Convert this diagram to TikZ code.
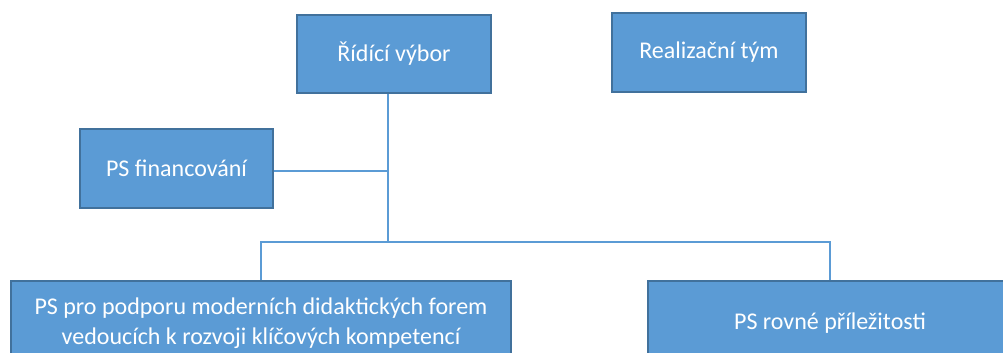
\documentclass[tikz,border=0pt]{standalone}
\usepackage{fontspec}
\setmainfont{Carlito}
\definecolor{boxfill}{HTML}{5B9BD5}
\definecolor{boxline}{HTML}{41719C}
\definecolor{conn}{HTML}{5B9BD5}
\begin{document}
\begin{tikzpicture}[x=1pt,y=-1pt,
  orgbox/.style={draw=boxline,line width=2pt,fill=boxfill,text=white,inner sep=0pt,
    font=\fontsize{24}{30}\selectfont,align=center},
  link/.style={draw=conn,line width=1.2pt}]
\useasboundingbox (0,0) rectangle (1003,353);
\clip (0,0) rectangle (1003,353);
\node[orgbox,minimum width=194pt,minimum height=78pt] (rv) at (394,54) {Řídící výbor};
\node[orgbox,minimum width=194pt,minimum height=79pt] (rt) at (709,52.5) {Realizační tým};
\node[orgbox,minimum width=193pt,minimum height=79pt] (fin) at (176.5,168.5) {PS financování};
\node[orgbox,minimum width=500pt,minimum height=84pt] (dida) at (261,323) {PS pro podporu moderních didaktických forem\\vedoucích k rozvoji klíčových kompetencí};
\node[orgbox,minimum width=364pt,minimum height=84pt] (rov) at (830,323) {PS rovné příležitosti};
\coordinate (j1) at (388,171);
\coordinate (j2) at (388,242);
\draw[link] (rv.south -| j1) -- (j2);
\draw[link] (fin.east |- j1) -- (j1);
\draw[link] (j2) -- (j2 -| dida.north) -- (dida.north);
\draw[link] (j2) -- (j2 -| rov.north) -- (rov.north);
\end{tikzpicture}
\end{document}
